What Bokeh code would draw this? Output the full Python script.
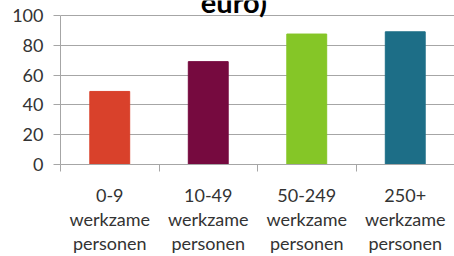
from bokeh.plotting import figure
from bokeh.models import ColumnDataSource, FixedTicker, Range1d
from bokeh.core.properties import value
from bokeh.embed import file_html
from bokeh.resources import INLINE

categories = ["0-9\nwerkzame\npersonen", "10-49\nwerkzame\npersonen",
              "50-249\nwerkzame\npersonen", "250+\nwerkzame\npersonen"]
values = [49, 69, 87.5, 89]
colors = ["#D9412B", "#760A3F", "#85C627", "#1D6E87"]
y_ticks = [0, 20, 40, 60, 80, 100]
title_text = "euro)"

FONT = "Lato"
positions = [i + 0.5 for i in range(len(categories))]

src = ColumnDataSource(dict(x=positions, top=values, color=colors))

p = figure(width=454, height=256, output_backend="svg", toolbar_location=None,
           x_range=Range1d(0, len(categories)), y_range=Range1d(0, 110),
           min_border_left=60, min_border_right=0, min_border_top=0,
           min_border_bottom=92, outline_line_color=None)

p.vbar(x="x", top="top", bottom=0, width=0.405, color="color", source=src)

# y axis
p.yaxis.ticker = FixedTicker(ticks=y_ticks, minor_ticks=[])
p.yaxis.bounds = (0, 100)
p.yaxis.axis_line_color = "#A6A6A6"
p.yaxis.major_tick_line_color = "#A6A6A6"
p.yaxis.major_tick_out = 7
p.yaxis.major_tick_in = 0
p.yaxis.minor_tick_line_color = None
p.yaxis.major_label_text_font = FONT
p.yaxis.major_label_text_font_size = "18px"
p.yaxis.major_label_text_color = "#333333"
p.yaxis.major_label_standoff = 10

# x axis: labels at centers, ticks at boundaries
p.xaxis.ticker = FixedTicker(ticks=positions, minor_ticks=list(range(len(categories) + 1)))
p.xaxis.major_label_overrides = {pos: lab for pos, lab in zip(positions, categories)}
p.xaxis.axis_line_color = "#A6A6A6"
p.xaxis.major_tick_line_color = None
p.xaxis.minor_tick_line_color = "#A6A6A6"
p.xaxis.minor_tick_out = 7
p.xaxis.minor_tick_in = 0
p.xaxis.major_label_text_font = FONT
p.xaxis.major_label_text_font_size = "18px"
p.xaxis.major_label_text_color = "#333333"
p.xaxis.major_label_text_line_height = 1.1
p.xaxis.major_label_standoff = 12

p.xgrid.grid_line_color = None
p.ygrid.ticker = FixedTicker(ticks=y_ticks)
p.ygrid.grid_line_color = "#A6A6A6"

p.text(x=[1.76], y=[109.5], text=[title_text], text_font=value(FONT),
       text_font_style="bold", text_font_size="29px", text_color="#000000",
       text_align="center", text_baseline="alphabetic")

open("out.html", "w").write(file_html(p, INLINE))
